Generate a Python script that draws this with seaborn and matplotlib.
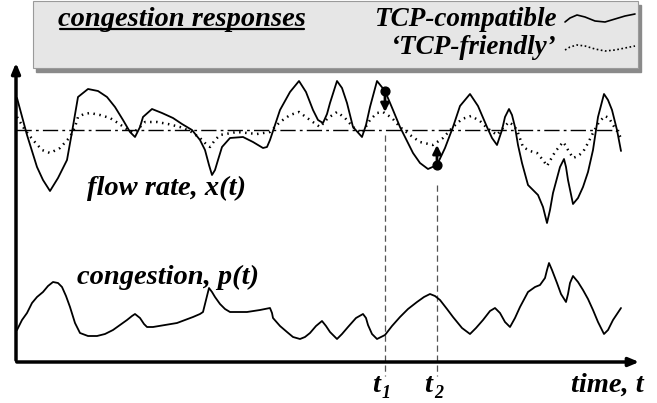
import matplotlib
matplotlib.use("Agg")
import matplotlib.pyplot as plt
import seaborn as sns
from matplotlib.patches import Rectangle

# values (time units across, screen units down)
t_rate = [17, 27, 37, 43, 50, 58, 67, 72, 78, 88, 98, 107, 115, 123, 130, 135, 140, 143, 152, 162,
          173, 182, 192, 200, 205, 209, 212, 215, 218, 222, 230, 243, 253, 263, 267, 270, 275, 280, 290, 299,
          306, 313, 318, 323, 327, 330, 337, 342, 347, 353, 362, 366, 370, 377, 385, 393, 400, 407, 413, 420,
          428, 437, 445, 453, 460, 470, 478, 487, 492, 497, 502, 505, 509, 512, 515, 518, 522, 528, 538, 543,
          547, 550, 553, 560, 564, 566, 568, 573, 578, 583, 588, 593, 598, 604, 608, 612, 617, 621]
x_tcp = [98, 135, 167, 180, 191, 178, 160, 132, 97, 89, 91, 97, 107, 120, 132, 137, 127, 117, 109, 113,
         118, 124, 130, 140, 150, 165, 175, 170, 160, 147, 138, 137, 142, 148, 147, 140, 125, 110, 92, 81,
         92, 110, 120, 123, 114, 103, 81, 88, 103, 127, 137, 125, 107, 81, 91, 110, 127, 141, 153, 163,
         169, 165, 148, 127, 106, 94, 106, 127, 138, 145, 130, 117, 109, 115, 127, 145, 163, 185, 195, 207,
         223, 210, 193, 167, 159, 167, 180, 204, 198, 187, 172, 150, 117, 94, 100, 110, 130, 151]

t_friendly = [17, 25, 33, 42, 50, 60, 70, 75, 78, 84, 90, 100, 110, 118, 125, 133, 139, 145, 157, 168,
              180, 190, 200, 206, 210, 215, 220, 237, 257, 270, 280, 290, 299, 310, 320, 328, 337, 345, 353, 362,
              370, 377, 383, 392, 400, 410, 420, 433, 443, 453, 462, 471, 480, 487, 497, 503, 509, 513, 517, 523,
              530, 537, 543, 547, 551, 555, 563, 566, 568, 573, 578, 583, 588, 593, 599, 605, 609, 613, 617, 621]
x_friendly = [117, 130, 140, 150, 153, 148, 137, 127, 117, 114, 113, 115, 118, 123, 128, 133, 128, 122, 122, 124,
              127, 131, 138, 144, 147, 140, 135, 132, 134, 132, 122, 115, 112, 120, 127, 118, 112, 118, 127, 133,
              120, 113, 112, 118, 127, 135, 142, 145, 138, 127, 119, 116, 121, 128, 135, 128, 122, 125, 130, 147,
              151, 153, 160, 166, 159, 152, 142, 146, 150, 158, 156, 152, 143, 133, 122, 116, 118, 125, 131, 138]

t_cong = [17, 22, 27, 32, 37, 43, 48, 53, 58, 62, 66, 70, 75, 80, 88, 97, 105, 113, 120, 127,
          132, 135, 140, 144, 147, 153, 165, 177, 185, 193, 200, 203, 206, 209, 212, 215, 220, 225, 230, 247,
          260, 270, 272, 273, 280, 287, 293, 300, 305, 310, 316, 322, 326, 330, 337, 342, 348, 356, 363, 366,
          368, 372, 377, 385, 392, 400, 408, 417, 424, 430, 435, 440, 447, 453, 462, 470, 476, 483, 490, 495,
          500, 505, 510, 515, 520, 528, 535, 540, 545, 547, 549, 552, 557, 561, 566, 568, 570, 573, 578, 583,
          588, 593, 598, 604, 608, 613, 617, 621]
p_cong = [330, 320, 313, 303, 297, 292, 286, 282, 283, 287, 296, 307, 323, 333, 336, 336, 334, 330, 325, 320,
          316, 314, 318, 324, 327, 327, 325, 323, 320, 317, 314, 312, 300, 288, 292, 297, 304, 309, 312, 312,
          310, 308, 313, 318, 326, 332, 337, 339, 337, 333, 326, 321, 326, 332, 339, 334, 327, 318, 314, 318,
          325, 334, 339, 335, 326, 317, 309, 302, 297, 294, 296, 300, 309, 317, 328, 334, 328, 320, 311, 308,
          313, 322, 327, 318, 307, 292, 287, 285, 278, 270, 263, 270, 283, 294, 302, 294, 283, 276, 282, 290,
          299, 310, 322, 334, 330, 320, 314, 308]

target_rate = 130
t1, t2 = 385, 437
x_t1 = [91, 112]   # TCP-compatible, TCP-friendly at t1
x_t2 = [165, 145]

# little key samples
key_t = [565, 570, 577, 585, 595, 605, 615, 625, 635]
key_solid = [22, 18, 15, 17, 21, 22, 19, 16, 14]
key_dotted = [50, 47, 45, 46, 49, 51, 50, 48, 46]

sns.set_style("white")
fig = plt.figure(figsize=(6.57, 4.03), dpi=100)
ax = fig.add_axes([0, 0, 1, 1])
ax.set_xlim(0, 657)
ax.set_ylim(403, 0)
ax.axis("off")

font = dict(family="Liberation Serif", weight="bold", style="italic", color="black")
big = 20.5

# key box with shadow
ax.add_patch(Rectangle((36, 5), 605, 67, color="#8a8a8a", zorder=1))
ax.add_patch(Rectangle((33, 1), 605, 67, facecolor="#e6e6e6", edgecolor="#9a9a9a", lw=0.8, zorder=2))
title = ax.text(58, 20, "congestion responses", fontsize=big, va="center", zorder=3, **font)
ax.text(557, 19, "TCP-compatible", fontsize=19.5, va="center", ha="right", zorder=3, **font)
ax.text(557, 48, "\u2018TCP-friendly\u2019", fontsize=19.5, va="center", ha="right", zorder=3, **font)
sns.lineplot(x=key_t, y=key_solid, sort=False, estimator=None, color="black", lw=1.2, ax=ax, zorder=3)
sns.lineplot(x=key_t, y=key_dotted, sort=False, estimator=None, color="black", lw=1.2,
             linestyle=(0, (1, 1.5)), ax=ax, zorder=3)

# axes arrows
ax.annotate("", xy=(16, 60), xytext=(16, 363),
            arrowprops=dict(arrowstyle="-|>,head_width=0.25,head_length=0.6", lw=2.5, color="black"))
ax.annotate("", xy=(642, 362), xytext=(14, 362),
            arrowprops=dict(arrowstyle="-|>,head_width=0.25,head_length=0.6", lw=2.5, color="black"))

# target rate
ax.plot([16, 622], [target_rate, target_rate], color="black", lw=1, linestyle=(0, (11, 3, 2, 3)))

# t1, t2 markers
ax.plot([t1, t1], [135, 376], color="#555555", lw=0.9, linestyle=(0, (5, 3)))
ax.plot([t2, t2], [185, 376], color="#555555", lw=0.9, linestyle=(0, (5, 3)))

sns.lineplot(x=t_rate, y=x_tcp, sort=False, estimator=None, color="black", lw=1.3, ax=ax)
sns.lineplot(x=t_friendly, y=x_friendly, sort=False, estimator=None, color="black", lw=1.8,
             linestyle=(0, (0.6, 1.8)), ax=ax)
sns.lineplot(x=t_cong, y=p_cong, sort=False, estimator=None, color="black", lw=1.3, ax=ax)

for t, (a, b) in [(t1, x_t1), (t2, x_t2)]:
    ax.annotate("", xy=(t, b), xytext=(t, a),
                arrowprops=dict(arrowstyle="-|>,head_width=0.25,head_length=0.5", lw=2, color="black",
                                shrinkA=0, shrinkB=0))
    ax.scatter([t], [a], s=40, color="black", zorder=5)

ax.text(87, 188, "flow rate, x(t)", fontsize=big, va="center", **font)
ax.text(77, 277, "congestion, p(t)", fontsize=big, va="center", **font)
ax.text(644, 385, "time, t", fontsize=big, va="center", ha="right", **font)
for t, sub in [(t1, "1"), (t2, "2")]:
    ax.text(t - 5, 385, "t", fontsize=big, va="center", ha="right", **font)
    ax.text(t - 3, 394, sub, fontsize=13, va="center", ha="left", **font)

# underline the key title
fig.canvas.draw()
bb = title.get_window_extent().transformed(ax.transData.inverted())
ax.plot([bb.x0 + 2, bb.x1 - 2], [max(bb.y0, bb.y1) - 4] * 2, color="black", lw=1.6, zorder=3)

fig.savefig("out.png", dpi=100)
